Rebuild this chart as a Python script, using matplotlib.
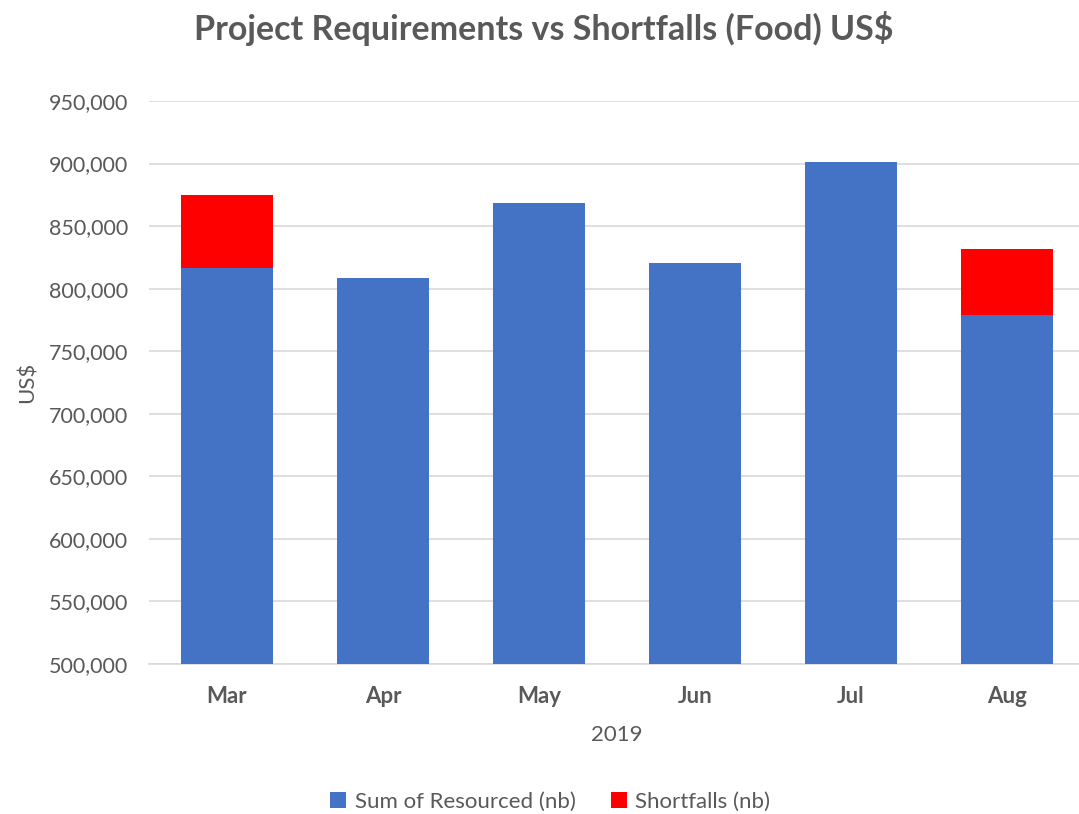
import matplotlib.pyplot as plt
from matplotlib.ticker import FuncFormatter

months = ["Mar", "Apr", "May", "Jun", "Jul", "Aug"]
resourced = [816300, 808600, 868800, 820300, 901400, 778600]
shortfalls = [58300, 0, 0, 0, 0, 53200]

BLUE = "#4472c4"
RED = "#ff0000"
GREY = "#595959"

plt.rcParams['font.family'] = ['Lato', 'DejaVu Sans']

fig = plt.figure(figsize=(10.79, 8.14), dpi=100)
ax = fig.add_axes([0.138, 0.1843, 0.8675, 0.6916])

x = range(len(months))
ax.bar(x, resourced, width=0.585, color=BLUE, label="Sum of Resourced (nb)", zorder=3)
ax.bar(x, shortfalls, width=0.585, bottom=resourced, color=RED, label="Shortfalls (nb)", zorder=3)

ax.set_ylim(500000, 950000)
ax.set_xlim(-0.5, len(months) - 0.5)
ax.set_yticks(range(500000, 950001, 50000))
ax.yaxis.set_major_formatter(FuncFormatter(lambda v, p: f"{int(v):,}"))
ax.set_xticks(list(x))
ax.set_xticklabels(months, fontweight="bold")
ax.tick_params(axis="both", length=0, labelsize=15.5, colors=GREY)
ax.tick_params(axis="x", labelsize=16, pad=16)
ax.tick_params(axis="y", pad=15)
ax.grid(axis="y", color="#d9d9d9", linewidth=1.2, zorder=0)

for side in ["top", "right", "left"]:
    ax.spines[side].set_visible(False)
ax.spines["bottom"].set_color("#d9d9d9")
ax.spines["bottom"].set_linewidth(1.2)

ax.set_ylabel("US$", fontsize=16, color=GREY, labelpad=8)
ax.set_xlabel("2019", fontsize=16, color=GREY, labelpad=13)

fig.suptitle("Project Requirements vs Shortfalls (Food) US$", x=0.504, y=0.987,
             fontsize=24.5, fontweight="bold", color=GREY)

leg = fig.legend(loc="lower center", bbox_to_anchor=(0.51, -0.022), ncol=2, frameon=False,
                 fontsize=16, handlelength=0.7, handleheight=0.7, columnspacing=1.6,
                 handletextpad=0.4)
for t in leg.get_texts():
    t.set_color(GREY)

fig.savefig("out.png", dpi=100)
